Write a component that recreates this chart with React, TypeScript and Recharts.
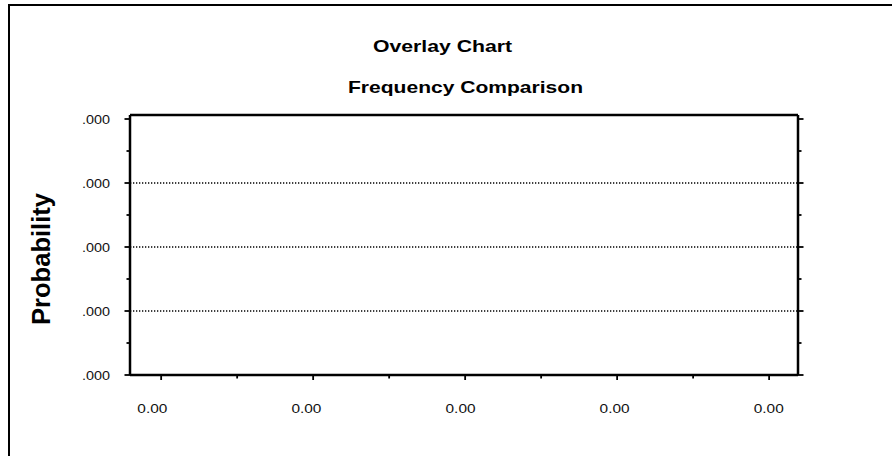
/* Overlay Chart — frequency comparison (empty probability frame) */
import { LineChart, Line, XAxis, YAxis, ReferenceLine } from 'recharts';

// x axis: minor-tick units, majors carry the "0.00" labels
const xTicks = [0, 1, 2, 3, 4, 5, 6, 7, 8];
const xMajor = [0, 2, 4, 6, 8];
const xLabels = ['0.00', '0.00', '0.00', '0.00', '0.00'];

// y axis: probability, majors carry the ".000" labels
const yTicks = [0, 1, 2, 3, 4, 5, 6, 7, 8];
const yMajor = [0, 2, 4, 6, 8];
const yLabels = ['.000', '.000', '.000', '.000', '.000'];
const gridValues = [2, 4, 6];

// no frequencies plotted in the reference
const bins: number[] = [];
const probabilities: number[] = [];

const data = bins.map((b, i) => ({ bin: b, prob: probabilities[i] }));

const FONT = "'Liberation Sans', Arial, sans-serif";
const AXIS = { stroke: '#000', strokeWidth: 2.5 };

const XTickMark = ({ x, y, payload }: any) => {
  const major = xMajor.includes(payload.value);
  return <line x1={x} x2={x} y1={y} y2={y + (major ? 5 : 3.5)} stroke="#000" strokeWidth={1.8} />;
};

const XTickLabel = ({ x, y, payload }: any) => {
  const i = xMajor.indexOf(payload.value);
  if (i < 0) return <g />;
  return (
    <text x={x} y={y + 36.5} textAnchor="middle" fontSize={13} fontFamily={FONT}
      fill="#111" textLength={30} lengthAdjust="spacingAndGlyphs">
      {xLabels[i]}
    </text>
  );
};

const YTickLeft = ({ x, y, payload }: any) => {
  const i = yMajor.indexOf(payload.value);
  return (
    <g>
      <line x1={x} x2={x - (i >= 0 ? 5.5 : 3.5)} y1={y} y2={y} stroke="#000" strokeWidth={1.8} />
      {i >= 0 && (
        <text x={x - 20} y={y} dy="0.36em" textAnchor="end" fontSize={12.5} fontFamily={FONT}
          fill="#111" textLength={28} lengthAdjust="spacingAndGlyphs">
          {yLabels[i]}
        </text>
      )}
    </g>
  );
};

const YTickRight = ({ x, y, payload }: any) => {
  const major = yMajor.includes(payload.value);
  return <line x1={x} x2={x + (major ? 5.5 : 3.5)} y1={y} y2={y} stroke="#000" strokeWidth={1.8} />;
};

const ProbLabel = ({ viewBox }: any) => {
  const cx = viewBox.x + 41;
  const cy = viewBox.y + viewBox.height / 2 + 14;
  return (
    <text x={cx} y={cy} transform={`rotate(-90 ${cx} ${cy})`} textAnchor="middle"
      dominantBaseline="central" fontSize={26} fontWeight="bold" fontFamily={FONT}
      fill="#000" textLength={132} lengthAdjust="spacingAndGlyphs">
      Probability
    </text>
  );
};

export default function App() {
  return (
    <div style={{ position: 'absolute', left: 0, top: 0, width: 892, height: 456, overflow: 'hidden', background: '#fff' }}>
      <svg width={892} height={456} style={{ position: 'absolute', left: 0, top: 0 }}>
        <rect x={9} y={5} width={1000} height={1000} fill="none" stroke="#000" strokeWidth={2} />
        <text x={442.5} y={51.5} textAnchor="middle" fontSize={17} fontWeight="bold" fontFamily={FONT}
          textLength={139} lengthAdjust="spacingAndGlyphs">Overlay Chart</text>
        <text x={465.5} y={93} textAnchor="middle" fontSize={17} fontWeight="bold" fontFamily={FONT}
          textLength={235} lengthAdjust="spacingAndGlyphs">Frequency Comparison</text>
      </svg>
      <div style={{ position: 'absolute', left: 0, top: 0 }}>
        <LineChart width={892} height={456} data={data} margin={{ top: 114, right: 0, bottom: 0, left: 0 }}>
          <XAxis xAxisId="x" dataKey="bin" type="number" domain={[-0.41, 8.38]} allowDataOverflow
            ticks={xTicks} interval={0} height={1} tickSize={0} tickMargin={0}
            axisLine={AXIS} tickLine={false} tick={XTickMark} />
          <XAxis xAxisId="xlab" dataKey="bin" type="number" domain={[-0.29, 8.38]} allowDataOverflow
            ticks={xMajor} interval={0} height={80} tickSize={0} tickMargin={0}
            axisLine={false} tickLine={false} tick={XTickLabel} />
          <XAxis xAxisId="top" orientation="top" type="number" domain={[-0.41, 8.38]} allowDataOverflow
            height={1} axisLine={AXIS} tickLine={false} tick={false} />
          <YAxis yAxisId="left" type="number" domain={[0, 8.125]} allowDataOverflow
            ticks={yTicks} interval={0} width={130} tickSize={0} tickMargin={0}
            axisLine={AXIS} tickLine={false} tick={YTickLeft}
            label={<ProbLabel />} />
          <YAxis yAxisId="right" orientation="right" type="number" domain={[0, 8.125]} allowDataOverflow
            ticks={yTicks} interval={0} width={94} tickSize={0} tickMargin={0}
            axisLine={AXIS} tickLine={false} tick={YTickRight} />
          {gridValues.map((v) => (
            <ReferenceLine key={v} xAxisId="x" yAxisId="left" y={v} stroke="#000"
              strokeWidth={1.3} strokeDasharray="1.3 1.7" />
          ))}
          <Line xAxisId="x" yAxisId="left" dataKey="prob" stroke="#000" dot={false} isAnimationActive={false} />
        </LineChart>
      </div>
    </div>
  );
}
